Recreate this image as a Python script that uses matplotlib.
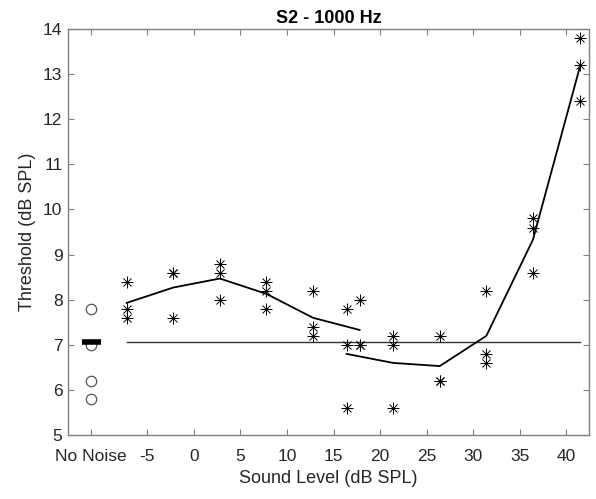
import numpy as np
import matplotlib
matplotlib.use('Agg')
import matplotlib.pyplot as plt

plt.rcParams['font.family'] = ['Liberation Sans', 'DejaVu Sans']

# no-noise baseline thresholds
no_noise_x = -11
no_noise_y = [7.8, 7.0, 6.2, 5.8]
baseline = 7.07

# first run: sound level and thresholds
run1_x = [-7.2, -7.2, -7.2, -2.2, -2.2, -2.2, 2.8, 2.8, 2.8,
          7.8, 7.8, 7.8, 12.8, 12.8, 12.8, 17.8, 17.8, 17.8]
run1_y = [8.4, 7.8, 7.6, 8.6, 8.6, 7.6, 8.8, 8.6, 8.0,
          8.4, 8.2, 7.8, 8.2, 7.4, 7.2, 8.0, 7.0, 7.0]
run1_levels = [-7.2, -2.2, 2.8, 7.8, 12.8, 17.8]
run1_mean = [7.93, 8.27, 8.47, 8.13, 7.6, 7.33]

# second run
run2_x = [16.4, 16.4, 16.4, 21.4, 21.4, 21.4, 26.4, 26.4, 26.4,
          31.4, 31.4, 31.4, 36.4, 36.4, 36.4, 41.4, 41.4, 41.4]
run2_y = [7.8, 7.0, 5.6, 7.2, 7.0, 5.6, 7.2, 6.2, 6.2,
          8.2, 6.8, 6.6, 9.8, 9.6, 8.6, 13.8, 13.2, 12.4]
run2_levels = [16.4, 21.4, 26.4, 31.4, 36.4, 41.4]
run2_mean = [6.8, 6.6, 6.53, 7.2, 9.33, 13.13]

xticks = [-11, -5, 0, 5, 10, 15, 20, 25, 30, 35, 40]
xtick_labels = ['No Noise', '-5', '0', '5', '10', '15', '20', '25', '30', '35', '40']
yticks = list(range(5, 15))

fig = plt.figure(figsize=(5.96, 4.99), dpi=100)
ax = fig.add_axes([0.114, 0.128, 0.874, 0.814])

ax.plot([run1_levels[0], run2_levels[-1]], [baseline, baseline], color='#333333', lw=1.0)

ax.plot(run1_levels, run1_mean, color='black', lw=1.3)
ax.plot(run2_levels, run2_mean, color='black', lw=1.3)

for xs, ys in [(run1_x, run1_y), (run2_x, run2_y)]:
    ax.plot(xs, ys, linestyle='none', marker='+', ms=8, mew=0.7, color='black')
    ax.plot(xs, ys, linestyle='none', marker='x', ms=5.5, mew=0.7, color='black')

ax.plot([no_noise_x] * len(no_noise_y), no_noise_y, linestyle='none', marker='o',
        ms=7.5, mfc='none', mec='#555555', mew=0.9)
ax.plot([no_noise_x - 1, no_noise_x + 1], [baseline, baseline], color='black', lw=4,
        solid_capstyle='butt')

ax.set_xlim(-13.5, 42.4)
ax.set_ylim(5, 14)
ax.set_xticks(xticks)
ax.set_xticklabels(xtick_labels)
ax.set_yticks(yticks)

ax.tick_params(direction='in', top=True, right=True, length=4, width=0.8,
               color='#808080', labelsize=12.5, labelcolor='#262626')
ax.tick_params(axis='x', pad=10)
ax.tick_params(axis='y', pad=4)
for s in ax.spines.values():
    s.set_color('#808080')
    s.set_linewidth(1.0)

ax.set_xlabel('Sound Level (dB SPL)', fontsize=13, color='#262626', labelpad=4)
ax.set_ylabel('Threshold (dB SPL)', fontsize=13, color='#262626', labelpad=5)
ax.set_title('S2 - 1000 Hz', fontsize=13, fontweight='bold', pad=4)

fig.savefig('out.png', dpi=100)
